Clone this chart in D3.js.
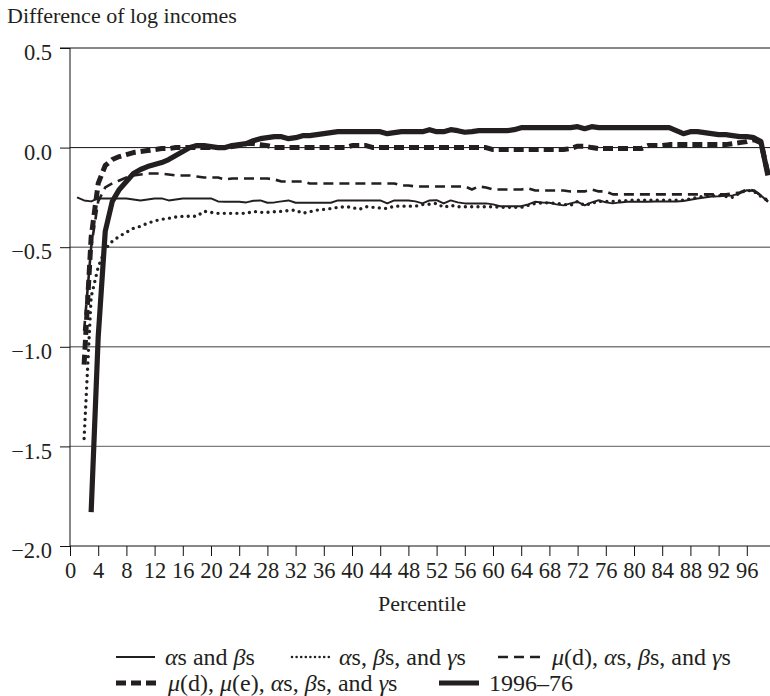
<!DOCTYPE html>
<html>
<head>
<meta charset="utf-8">
<script src="https://cdn.jsdelivr.net/npm/d3@7"></script>
<style>
  html, body { margin: 0; padding: 0; background: #fff; }
  svg { display: block; }
  text { font-family: "Liberation Serif", "Times New Roman", serif; fill: #231f20; }
</style>
</head>
<body>
<svg id="chart" width="770" height="696"></svg>
<script>
// Percentiles 1..99
const percentiles = d3.range(1, 100);

// Difference of log incomes by percentile, one array per simulation
const alphaBeta = [
  -0.25,-0.265,-0.27,-0.255,-0.255,-0.255,-0.255,-0.255,-0.26,-0.265,
  -0.26,-0.255,-0.255,-0.265,-0.26,-0.255,-0.255,-0.255,-0.255,-0.255,
  -0.27,-0.272,-0.272,-0.272,-0.275,-0.267,-0.265,-0.277,-0.275,-0.27,
  -0.265,-0.277,-0.277,-0.277,-0.277,-0.277,-0.277,-0.265,-0.265,-0.265,
  -0.265,-0.265,-0.265,-0.265,-0.28,-0.265,-0.265,-0.265,-0.27,-0.28,
  -0.265,-0.264,-0.28,-0.265,-0.275,-0.28,-0.28,-0.28,-0.28,-0.285,
  -0.294,-0.294,-0.294,-0.294,-0.285,-0.272,-0.275,-0.277,-0.285,-0.29,
  -0.28,-0.272,-0.29,-0.275,-0.264,-0.275,-0.28,-0.275,-0.272,-0.272,
  -0.272,-0.272,-0.27,-0.27,-0.27,-0.27,-0.268,-0.262,-0.256,-0.25,
  -0.245,-0.244,-0.242,-0.24,-0.23,-0.214,-0.218,-0.24,-0.272
];
const alphaBetaGamma = [
  null,-1.46,-0.75,-0.6,-0.51,-0.47,-0.445,-0.425,-0.405,-0.395,
  -0.38,-0.368,-0.36,-0.355,-0.348,-0.345,-0.345,-0.345,-0.32,-0.325,
  -0.33,-0.33,-0.33,-0.33,-0.33,-0.32,-0.325,-0.325,-0.322,-0.32,
  -0.316,-0.314,-0.33,-0.322,-0.314,-0.31,-0.306,-0.3,-0.297,-0.3,
  -0.31,-0.297,-0.3,-0.303,-0.306,-0.294,-0.294,-0.294,-0.294,-0.286,
  -0.284,-0.28,-0.3,-0.29,-0.297,-0.297,-0.297,-0.297,-0.297,-0.297,
  -0.3,-0.3,-0.3,-0.3,-0.29,-0.28,-0.278,-0.277,-0.28,-0.285,
  -0.29,-0.27,-0.29,-0.28,-0.27,-0.27,-0.27,-0.268,-0.266,-0.264,
  -0.264,-0.264,-0.264,-0.264,-0.264,-0.264,-0.264,-0.258,-0.25,-0.244,
  -0.242,-0.24,-0.245,-0.25,-0.227,-0.214,-0.22,-0.245,-0.265
];
const muD = [
  null,-0.92,-0.5,-0.27,-0.2,-0.18,-0.165,-0.15,-0.14,-0.135,
  -0.13,-0.13,-0.13,-0.135,-0.14,-0.14,-0.14,-0.145,-0.15,-0.15,
  -0.15,-0.16,-0.155,-0.155,-0.155,-0.155,-0.155,-0.155,-0.16,-0.17,
  -0.17,-0.17,-0.17,-0.18,-0.18,-0.18,-0.18,-0.18,-0.18,-0.18,
  -0.18,-0.18,-0.18,-0.18,-0.18,-0.18,-0.19,-0.19,-0.195,-0.195,
  -0.195,-0.195,-0.195,-0.195,-0.195,-0.195,-0.21,-0.195,-0.2,-0.21,
  -0.21,-0.21,-0.21,-0.21,-0.205,-0.215,-0.215,-0.215,-0.215,-0.215,
  -0.22,-0.22,-0.22,-0.21,-0.22,-0.22,-0.235,-0.235,-0.235,-0.235,
  -0.235,-0.235,-0.235,-0.235,-0.235,-0.235,-0.235,-0.235,-0.235,-0.235,
  -0.235,-0.235,-0.235,-0.23,-0.225,-0.21,-0.215,-0.24,-0.27
];
const muDE = [
  null,-1.09,-0.45,-0.18,-0.09,-0.06,-0.045,-0.035,-0.025,-0.02,
  -0.015,-0.01,-0.005,-0.005,0,0,0,0,0,0,
  0,0,0.005,0.01,0.02,0.02,0.015,0.01,0,0,
  0,0,0,0,0,0,0,0,0,0.01,
  0.01,0.01,0,0,0,0,0,0,0,0,
  0,0,0,0,0,0,0,0,0,-0.01,
  -0.01,-0.01,-0.01,-0.01,-0.01,-0.01,-0.01,-0.01,-0.01,-0.01,
  -0.005,0.007,0.007,0,-0.005,-0.005,-0.005,-0.005,-0.005,-0.005,
  -0.005,0.01,0.01,0.01,0.015,0.015,0.015,0.015,0.015,0.015,
  0.015,0.015,0.015,0.02,0.025,0.03,0.04,0.025,-0.13
];
const actual = [
  null,null,-1.83,-0.95,-0.42,-0.27,-0.21,-0.17,-0.13,-0.11,
  -0.095,-0.085,-0.075,-0.06,-0.04,-0.02,0,0.01,0.01,0.005,
  0,0,0.01,0.015,0.02,0.035,0.045,0.05,0.055,0.055,
  0.045,0.05,0.06,0.06,0.065,0.07,0.075,0.08,0.08,0.08,
  0.08,0.08,0.08,0.08,0.07,0.075,0.08,0.08,0.08,0.08,
  0.09,0.08,0.08,0.09,0.085,0.077,0.08,0.085,0.085,0.085,
  0.085,0.085,0.09,0.1,0.1,0.1,0.1,0.1,0.1,0.1,
  0.1,0.105,0.095,0.105,0.1,0.1,0.1,0.1,0.1,0.1,
  0.1,0.1,0.1,0.1,0.1,0.085,0.07,0.08,0.08,0.075,
  0.07,0.065,0.065,0.06,0.055,0.055,0.05,0.03,-0.14
];

const seriesLabels = [
  "αs and βs",
  "αs, βs, and γs",
  "μ(d), αs, βs, and γs",
  "μ(d), μ(e), αs, βs, and γs",
  "1996–76"
];
const xTicks = d3.range(0, 97, 4);
const yTicks = [0.5, 0.0, -0.5, -1.0, -1.5, -2.0];

const ink = "#231f20";
const styles = [
  { width: 2, dash: null, cap: "butt", legendDash: null },
  { width: 3.4, dash: "0,6.3", cap: "round", legendDash: "0,4.6" },
  { width: 2.6, dash: "10,6", cap: "butt", legendDash: "10,6" },
  { width: 5, dash: "10,5", cap: "butt", legendDash: "10,5" },
  { width: 5.2, dash: null, cap: "butt", legendDash: null }
];
const seriesValues = [alphaBeta, alphaBetaGamma, muD, muDE, actual];

const svg = d3.select("#chart");
const x = d3.scaleLinear().domain([0, 700 / 7.05]).range([70, 770]);
const y = d3.scaleLinear().domain([-2, 0.5]).range([546, 48]);

// Horizontal gridlines
svg.append("g").selectAll("line")
  .data(yTicks.filter(v => v > -2))
  .join("line")
  .attr("x1", x(0)).attr("x2", 770)
  .attr("y1", d => y(d)).attr("y2", d => y(d))
  .attr("stroke", d => (d === 0 || d === 0.5) ? "#111" : "#7d7d7d")
  .attr("stroke-width", d => (d === 0 || d === 0.5) ? 1 : 1.4);

// Y axis
const yAxis = d3.axisLeft(y).tickValues(yTicks).tickSize(10).tickPadding(8)
  .tickFormat(d => d3.format(".1f")(d).replace("-", "\u2212"));
const gy = svg.append("g").attr("transform", `translate(${x(0)},0)`).call(yAxis);
gy.select(".domain").attr("stroke", "#111").attr("d", `M-10,${y(0.5)}H0V${y(-2)}`);
gy.selectAll(".tick line").attr("stroke", "#111");
gy.selectAll(".tick text").attr("font-size", 22.5).attr("dy", "0.52em")
  .style("font-family", '"Liberation Serif", serif').attr("fill", ink);

// X axis
const xAxis = d3.axisBottom(x).tickValues(xTicks).tickSize(10).tickPadding(6);
const gx = svg.append("g").attr("transform", `translate(0,${y(-2)})`).call(xAxis);
gx.select(".domain").attr("stroke", "#111").attr("d", `M${x(0)},0H770`);
gx.selectAll(".tick line").attr("stroke", "#111");
gx.selectAll(".tick text").attr("font-size", 22.5)
  .style("font-family", '"Liberation Serif", serif').attr("fill", ink);

// Axis titles
svg.append("text").attr("x", 7).attr("y", 23).attr("font-size", 22)
  .text("Difference of log incomes");
svg.append("text").attr("x", 422).attr("y", 611).attr("font-size", 22)
  .attr("text-anchor", "middle").text("Percentile");

// Series lines
const line = d3.line()
  .defined(d => d.v !== null)
  .x(d => x(d.p))
  .y(d => y(d.v));

seriesValues.forEach((vals, i) => {
  const pts = percentiles.map((p, j) => ({ p, v: vals[j] }));
  const st = styles[i];
  svg.append("path")
    .datum(pts)
    .attr("d", line)
    .attr("fill", "none")
    .attr("stroke", ink)
    .attr("stroke-width", st.width)
    .attr("stroke-linecap", st.cap)
    .attr("stroke-linejoin", "round")
    .attr("stroke-dasharray", st.dash);
});

// Legend
const legendPos = [
  { x: 116, y: 657, len: 39 },
  { x: 290, y: 657, len: 39 },
  { x: 498, y: 657, len: 44 },
  { x: 116, y: 683, len: 42 },
  { x: 439, y: 683, len: 40 }
];
const greek = /[αβγμ]/;
seriesLabels.forEach((label, i) => {
  const pos = legendPos[i];
  const st = styles[i];
  const g = svg.append("g").attr("transform", `translate(${pos.x},${pos.y})`);
  g.append("line")
    .attr("x1", i === 1 ? 2 : 0).attr("x2", pos.len).attr("y1", 0).attr("y2", 0)
    .attr("stroke", ink)
    .attr("stroke-width", i === 1 ? 2.6 : st.width)
    .attr("stroke-linecap", st.cap)
    .attr("stroke-dasharray", st.legendDash);
  const t = g.append("text").attr("x", pos.len + 10).attr("y", 7.5).attr("font-size", 24);
  // Greek letters set in italic, the rest upright
  const parts = label.match(/[αβγμ]|[^αβγμ]+/g);
  parts.forEach(s => {
    t.append("tspan").attr("font-style", greek.test(s) ? "italic" : "normal").text(s);
  });
});
</script>
</body>
</html>
